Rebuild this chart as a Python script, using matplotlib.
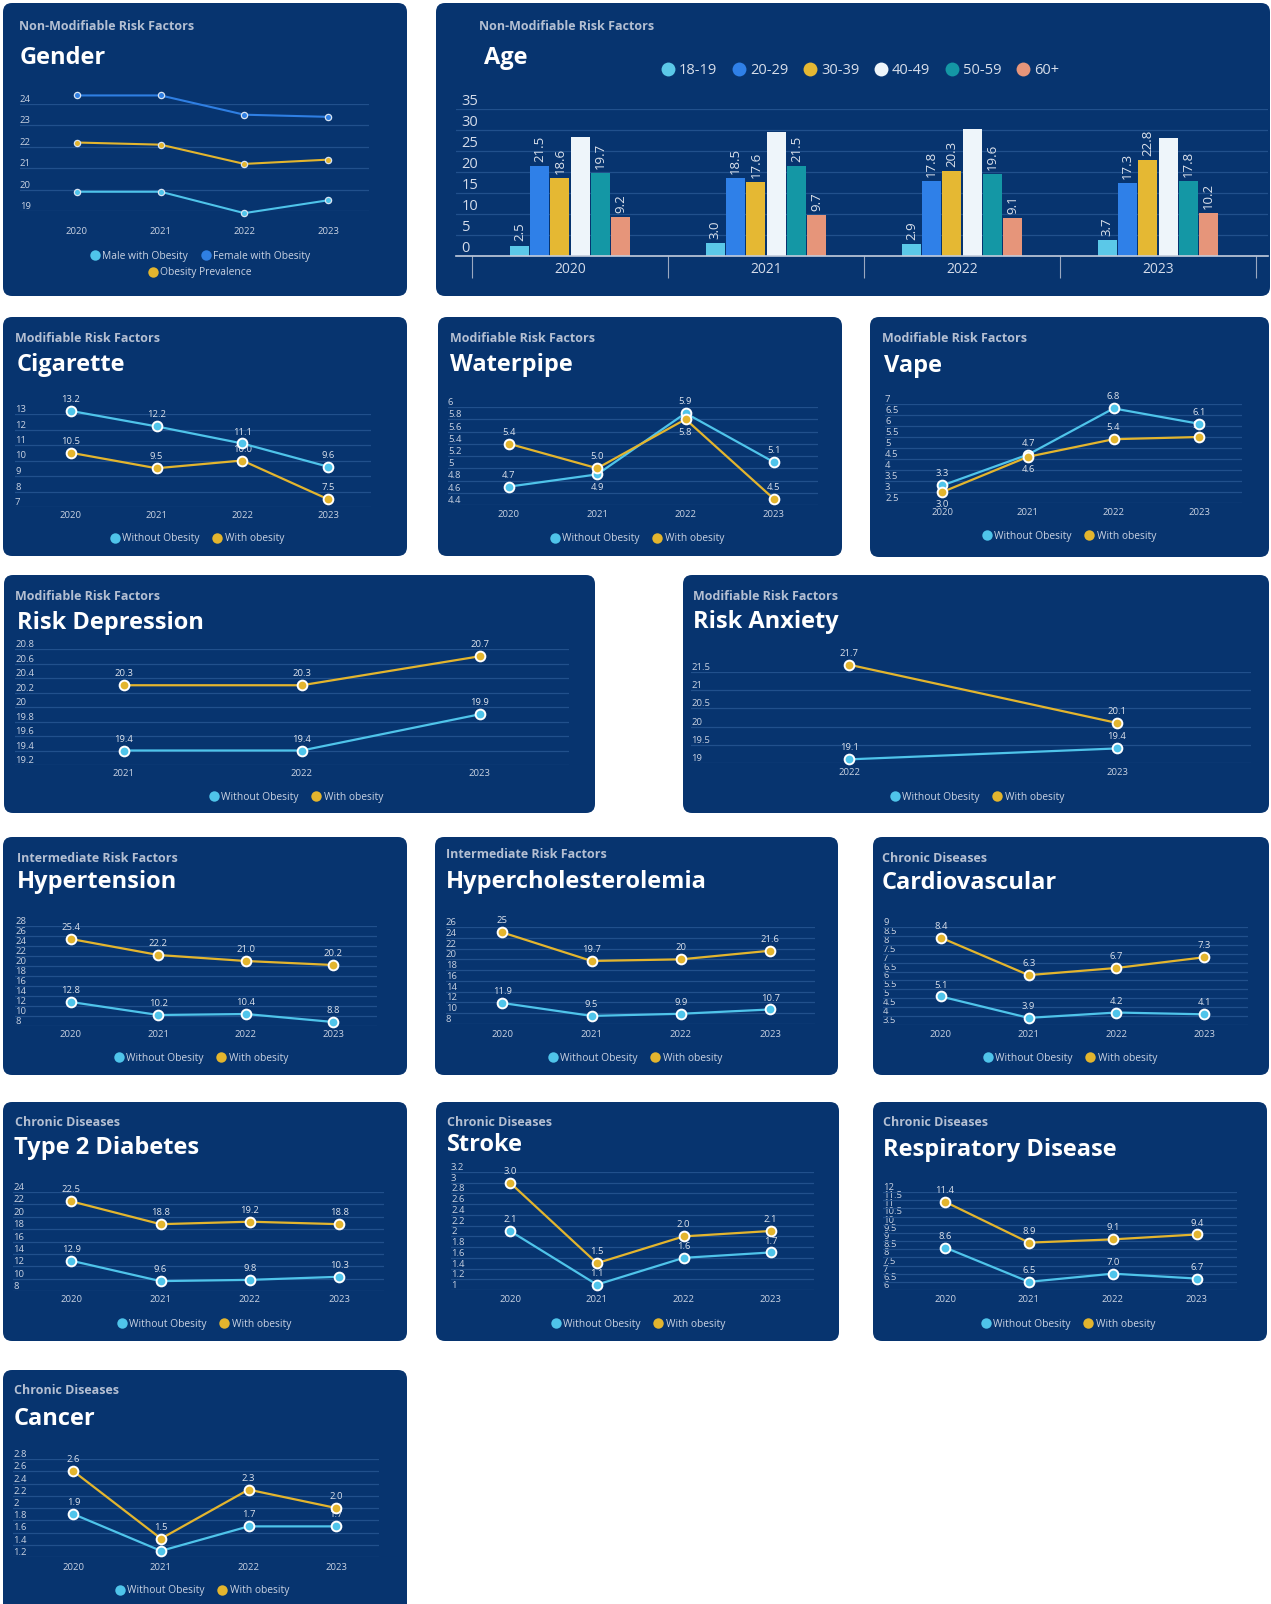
import numpy as np
import matplotlib.pyplot as plt
from matplotlib.patches import FancyBboxPatch
from matplotlib.lines import Line2D

plt.rcParams['font.family'] = ['Open Sans', 'DejaVu Sans']

W, H = 1271, 1604
BG = '#07346f'
GRID = '#21508c'
TICK = '#c9d2e2'
LAB = '#dce2ec'
CAT = '#b4bfd2'
CYAN = '#4fc4ea'
GOLD = '#e3b52e'
BLUE = '#2f7fe3'

years = ['2020', '2021', '2022', '2023']

# gender
gender_male = [19.9, 19.9, 18.9, 19.5]
gender_female = [24.4, 24.4, 23.5, 23.4]
gender_prev = [22.2, 22.1, 21.2, 21.4]

# age groups, values per year
age_groups = ['18-19', '20-29', '30-39', '40-49', '50-59', '60+']
age_colors = ['#5bc8e8', '#2f80e8', '#e5b833', '#eef5fa', '#1497a5', '#e6957a']
age_18_19 = [2.5, 3.0, 2.9, 3.7]
age_20_29 = [21.5, 18.5, 17.8, 17.3]
age_30_39 = [18.6, 17.6, 20.3, 22.8]
age_40_49 = [28.3, 29.5, 30.2, 28.1]
age_50_59 = [19.7, 21.5, 19.6, 17.8]
age_60p = [9.2, 9.7, 9.1, 10.2]

cig_without = [13.2, 12.2, 11.1, 9.6]
cig_with = [10.5, 9.5, 10.0, 7.5]
wp_without = [4.7, 4.9, 5.9, 5.1]
wp_with = [5.4, 5.0, 5.8, 4.5]
vape_without = [3.3, 4.7, 6.8, 6.1]
vape_with = [3.0, 4.6, 5.4, 5.5]
dep_years = ['2021', '2022', '2023']
dep_without = [19.4, 19.4, 19.9]
dep_with = [20.3, 20.3, 20.7]
anx_years = ['2022', '2023']
anx_without = [19.1, 19.4]
anx_with = [21.7, 20.1]
hyp_without = [12.8, 10.2, 10.4, 8.8]
hyp_with = [25.4, 22.2, 21.0, 20.2]
chol_without = [11.9, 9.5, 9.9, 10.7]
chol_with = [25, 19.7, 20, 21.6]
cardio_without = [5.1, 3.9, 4.2, 4.1]
cardio_with = [8.4, 6.3, 6.7, 7.3]
t2d_without = [12.9, 9.6, 9.8, 10.3]
t2d_with = [22.5, 18.8, 19.2, 18.8]
stroke_without = [2.1, 1.1, 1.6, 1.7]
stroke_with = [3.0, 1.5, 2.0, 2.1]
resp_without = [8.6, 6.5, 7.0, 6.7]
resp_with = [11.4, 8.9, 9.1, 9.4]
cancer_without = [1.9, 1.3, 1.7, 1.7]
cancer_with = [2.6, 1.5, 2.3, 2.0]

fig = plt.figure(figsize=(W / 100, H / 100), dpi=100)
fig.patch.set_facecolor('white')


def fx(x):
    return x / W


def fy(y):
    return 1 - y / H


def card(box, cat, cat_xy, title, title_xy, tsize=17):
    x0, y0, x1, y1 = box
    p = FancyBboxPatch((x0 / 100, (H - y1) / 100), (x1 - x0) / 100, (y1 - y0) / 100,
                       boxstyle='round,pad=0,rounding_size=0.09',
                       transform=fig.dpi_scale_trans, facecolor=BG,
                       edgecolor='none', zorder=-5)
    fig.patches.append(p)
    fig.text(fx(cat_xy[0]), fy(cat_xy[1]), cat, color=CAT, fontsize=9,
             fontweight='bold', ha='left', va='center')
    fig.text(fx(title_xy[0]), fy(title_xy[1]), title, color='white',
             fontsize=tsize, fontweight='bold', ha='left', va='center')


def legend(items, xy, fs=7.4, ms=7.5):
    hs = [Line2D([], [], marker='o', ls='none', color=c, ms=ms, mew=0) for _, c in items]
    fig.legend(hs, [t for t, _ in items], loc='center', bbox_to_anchor=(fx(xy[0]), fy(xy[1])),
               ncol=len(items), frameon=False, fontsize=fs, labelcolor=TICK,
               handletextpad=0.2, columnspacing=1.2, borderpad=0, handlelength=1.0)


def line_axes(grid, ticks, margins, xlab_y, cats):
    L, R, T, B = grid
    ax = fig.add_axes([fx(L), fy(B), (R - L) / W, (B - T) / H])
    ax.patch.set_visible(False)
    lo, hi, step = ticks
    yt = np.round(np.arange(lo, hi + step / 2, step), 2)
    ax.set_ylim(lo, hi)
    ax.set_xlim(-margins[0], len(cats) - 1 + margins[1])
    ax.set_yticks(yt)
    ax.set_yticklabels([f'{v:g}' for v in yt])
    ax.grid(axis='y', color=GRID, lw=0.9)
    ax.set_axisbelow(True)
    for s in ax.spines.values():
        s.set_visible(False)
    ax.tick_params(axis='y', length=0, pad=0, labelsize=6.8, labelcolor=TICK)
    plt.setp(ax.get_yticklabels(), ha='left', va='bottom')
    ax.set_xticks(np.arange(len(cats)))
    ax.set_xticklabels(cats)
    ax.tick_params(axis='x', length=0, pad=max((xlab_y - B - 4) * 0.72, 0),
                   labelsize=6.8, labelcolor=TICK)
    return ax


def line_panel(box, cat, cat_xy, title, title_xy, grid, ticks, margins, xlab_y, leg_xy,
               cats, without, with_, fmt='{:.1f}', below_wo=(), below_w=()):
    card(box, cat, cat_xy, title, title_xy)
    ax = line_axes(grid, ticks, margins, xlab_y, cats)
    x = np.arange(len(cats))
    for vals, col, below in ((without, CYAN, below_wo), (with_, GOLD, below_w)):
        ax.plot(x, vals, color=col, lw=1.6, marker='o', ms=7, mfc=col, mec='white',
                mew=1.4, clip_on=False, zorder=3)
        for i, v in enumerate(vals):
            dn = i in below
            ax.annotate(fmt.format(v), (x[i], v), xytext=(0, -6 if dn else 5),
                        textcoords='offset points', ha='center', annotation_clip=False,
                        va='top' if dn else 'bottom', fontsize=6.8, color=LAB, zorder=2)
    legend([('Without Obesity', CYAN), ('With obesity', GOLD)], leg_xy)


# ---- Gender
card((3, 3, 407, 296), 'Non-Modifiable Risk Factors', (19, 27), 'Gender', (20, 58), 17)
ax = line_axes((20, 369, 104, 211), (19, 24, 1), (0.68, 0.49), 231, years)
for vals, col in ((gender_female, BLUE), (gender_prev, GOLD), (gender_male, CYAN)):
    ax.plot(years, vals, color=col, lw=1.5, marker='o', ms=4.5, mfc=col, mec='#d8e4f2',
            mew=0.9, clip_on=False, zorder=3)
legend([('Male with Obesity', CYAN), ('Female with Obesity', BLUE)], (200, 256))
legend([('Obesity Prevalence', GOLD)], (200, 273))

# ---- Age
card((436, 3, 1270, 296), 'Non-Modifiable Risk Factors', (479, 27), 'Age', (484, 58), 17)
ax = fig.add_axes([fx(456), fy(256), (1268 - 456) / W, (256 - 109) / H])
ax.patch.set_visible(False)
ax.set_ylim(0, 35)
ax.set_xlim(-0.5 - 16 / 196, 3.5 + 12 / 196)
ax.set_yticks(np.arange(0, 36, 5))
ax.grid(axis='y', color=GRID, lw=0.9)
ax.set_axisbelow(True)
for s in ('top', 'right', 'left'):
    ax.spines[s].set_visible(False)
ax.spines['bottom'].set_color('#c3cddd')
ax.spines['bottom'].set_linewidth(1.2)
ax.tick_params(axis='y', length=0, pad=-4, labelsize=10.5, labelcolor='#d5dcea')
plt.setp(ax.get_yticklabels(), ha='left', va='bottom')
ax.set_xticks(np.arange(4))
ax.set_xticklabels(years)
ax.tick_params(axis='x', which='major', length=0, pad=4, labelsize=10, labelcolor='#d5dcea')
ax.set_xticks(np.arange(-0.5, 4, 1), minor=True)
ax.tick_params(axis='x', which='minor', length=16, width=0.8, color='#9aa8c0')
age_values = [age_18_19, age_20_29, age_30_39, age_40_49, age_50_59, age_60p]
n = len(age_groups)
bw = 0.62 / n
xg = np.arange(4)
for k, (g, vals, col) in enumerate(zip(age_groups, age_values, age_colors)):
    pos = xg + (k - (n - 1) / 2) * bw
    ax.bar(pos, vals, width=bw * 0.93, color=col, zorder=2)
    if g == '40-49':
        continue
    for p, v in zip(pos, vals):
        ax.annotate(f'{v:.1f}', (p, v), xytext=(0, 3), textcoords='offset points',
                    rotation=90, ha='center', va='bottom', fontsize=9.5, color=LAB)
hs = [Line2D([], [], marker='o', ls='none', color=c, ms=10, mew=0) for c in age_colors]
fig.legend(hs, age_groups, loc='center', bbox_to_anchor=(fx(860), fy(71)), ncol=6,
           frameon=False, fontsize=10.5, labelcolor='#d7deea', handletextpad=0.25,
           columnspacing=1.0, borderpad=0, handlelength=1.0)

MOD = 'Modifiable Risk Factors'
INT = 'Intermediate Risk Factors'
CHR = 'Chronic Diseases'

line_panel((3, 317, 407, 556), MOD, (15, 339), 'Cigarette', (17, 365),
           (15, 371, 414, 507), (7, 13, 1), (0.65, 0.5), 515, (197, 539),
           years, cig_without, cig_with)
line_panel((438, 317, 842, 556), MOD, (450, 339), 'Waterpipe', (450, 365),
           (448, 818, 407, 505), (4.4, 6, 0.2), (0.69, 0.5), 514, (637, 539),
           years, wp_without, wp_with, below_wo=(1,), below_w=(2,))
line_panel((870, 317, 1269, 557), MOD, (882, 339), 'Vape', (884, 366),
           (885, 1242, 404, 503), (2.5, 7, 0.5), (0.67, 0.5), 512, (1069, 536),
           years, vape_without, vape_with, below_w=(0, 1))
line_panel((4, 575, 595, 813), MOD, (15, 596), 'Risk Depression', (17, 623),
           (15, 569, 649, 765), (19.2, 20.8, 0.2), (0.61, 0.5), 773, (296, 797),
           dep_years, dep_without, dep_with)
line_panel((683, 575, 1269, 813), MOD, (693, 596), 'Risk Anxiety', (693, 622),
           (691, 1251, 672, 763), (19, 21.5, 0.5), (0.59, 0.5), 772, (977, 797),
           anx_years, anx_without, anx_with)
line_panel((3, 837, 407, 1075), INT, (17, 858), 'Hypertension', (17, 882),
           (15, 377, 926, 1026), (8, 28, 2), (0.64, 0.5), 1034, (201, 1058),
           years, hyp_without, hyp_with)
line_panel((435, 837, 838, 1075), INT, (446, 854), 'Hypercholesterolemia', (446, 882),
           (446, 815, 927, 1024), (8, 26, 2), (0.63, 0.5), 1034, (635, 1058),
           years, chol_without, chol_with, fmt='{:g}')
line_panel((873, 837, 1269, 1075), CHR, (882, 858), 'Cardiovascular', (882, 883),
           (883, 1248, 927, 1025), (3.5, 9, 0.5), (0.66, 0.5), 1034, (1070, 1058),
           years, cardio_without, cardio_with)
line_panel((3, 1102, 407, 1341), CHR, (15, 1123), 'Type 2 Diabetes', (14, 1148),
           (13, 384, 1192, 1291), (8, 24, 2), (0.65, 0.5), 1299, (204, 1324),
           years, t2d_without, t2d_with)
line_panel((436, 1102, 839, 1341), CHR, (447, 1123), 'Stroke', (447, 1145),
           (451, 814, 1172, 1290), (1, 3.2, 0.2), (0.68, 0.5), 1299, (638, 1324),
           years, stroke_without, stroke_with)
line_panel((873, 1102, 1267, 1341), CHR, (883, 1123), 'Respiratory Disease', (883, 1150),
           (883, 1237, 1192, 1290), (6, 12, 0.5), (0.74, 0.48), 1299, (1068, 1324),
           years, resp_without, resp_with)
line_panel((3, 1370, 407, 1630), CHR, (14, 1391), 'Cancer', (14, 1419),
           (13, 379, 1459, 1557), (1.2, 2.8, 0.2), (0.69, 0.49), 1567, (202, 1591),
           years, cancer_without, cancer_with)

fig.savefig('out.png', dpi=100, facecolor='white')
